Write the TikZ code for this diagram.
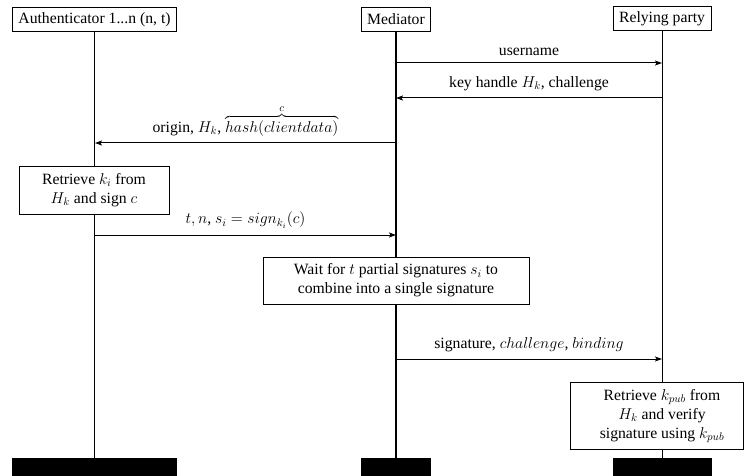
\RequirePackage{fix-cm}
\documentclass[tikz,border=0pt]{standalone}
\usepackage{fontspec}
\setmainfont{Liberation Serif}
\usetikzlibrary{arrows.meta}
\tikzset{
  base/.style={font=\rmfamily\fontsize{15.7}{18.8}\selectfont},
  header/.style={base, draw, line width=0.9pt, fill=white, inner xsep=6pt, minimum height=24pt},
  bar/.style={header, fill=black},
  lifeline/.style={line width=1pt},
  medline/.style={line width=2pt},
  actbox/.style={base, draw, line width=0.9pt, fill=white, align=center},
  msg/.style={line width=1pt, -{Stealth[length=7pt,width=5pt,inset=1.5pt]}},
  lbl/.style={base, above=3.5pt, inner sep=3pt}
}
\begin{document}
\begin{tikzpicture}[x=1pt,y=-1pt]
\useasboundingbox (0,0) rectangle (744,476);
% headers
\node[header] (auth) at (94.5,19.5) {Authenticator 1...n (n, t)};
\node[header] (med) at (396,19.5) {Mediator};
\node[header] (rp) at (662,18.5) {Relying party};
% bottom bars
\node[bar] (authend) at (94.5,470) {\phantom{Authenticator 1...n (n, t)}};
\node[bar] (medend) at (396,470) {\phantom{Mediator}};
\node[bar] (rpend) at (662,470) {\phantom{Relying party}};
% lifelines
\draw[lifeline] (auth.south) -- (authend.north);
\draw[medline] (med.south) -- (medend.north);
\draw[lifeline] (rp.south) -- (rpend.north);
% messages
\coordinate (m1a) at (396,63);  \coordinate (m1b) at (662,63);
\draw[msg] (m1a) -- node[lbl] {username} (m1b);
\coordinate (m2a) at (662,98);  \coordinate (m2b) at (396,98);
\draw[msg] (m2a) -- node[lbl] {key handle $H_k$, challenge} (m2b);
\coordinate (m3a) at (396,143); \coordinate (m3b) at (95,143);
\draw[msg] (m3a) -- node[lbl] {origin, $H_k$, $\overbrace{hash(clientdata)}^{c}$} (m3b);
\coordinate (m4a) at (95,235);  \coordinate (m4b) at (396,235);
\draw[msg] (m4a) -- node[lbl] {$t, n$, $s_i = sign_{k_i}(c)$} (m4b);
\coordinate (m5a) at (396,359); \coordinate (m5b) at (662,359);
\draw[msg] (m5a) -- node[lbl] {signature, $challenge$, $binding$} (m5b);
% activity boxes
\node[actbox, minimum width=150pt, minimum height=48pt] (sign) at (94,190)
  {Retrieve $k_i$ from\\ $H_k$ and sign $c$};
\node[actbox, minimum width=266pt, minimum height=47pt] (combine) at (396,280.5)
  {Wait for $t$ partial signatures $s_i$ to\\ combine into a single signature};
\node[actbox, minimum width=173pt, minimum height=67pt] (verify) at (656.5,415.5)
  {\hspace*{11pt}\begin{tabular}{@{}c@{}}Retrieve $k_{pub}$ from\\ $H_k$ and verify\\ signature using $k_{pub}$\end{tabular}};
\end{tikzpicture}
\end{document}
